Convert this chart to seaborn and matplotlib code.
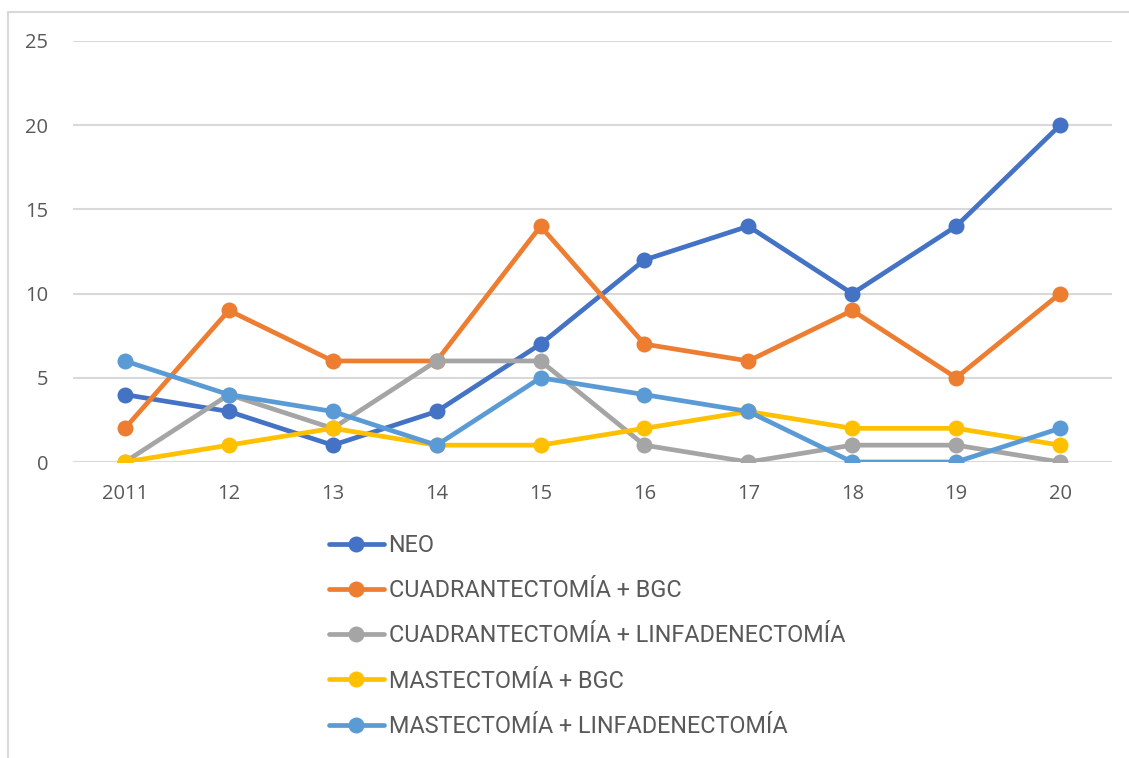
import matplotlib
matplotlib.use("Agg")
import matplotlib.pyplot as plt
from matplotlib import font_manager
from matplotlib.patches import Rectangle
import seaborn as sns
import pandas as pd

years = ["2011", "12", "13", "14", "15", "16", "17", "18", "19", "20"]
series_names = [
    "NEO",
    "CUADRANTECTOMÍA + BGC",
    "CUADRANTECTOMÍA + LINFADENECTOMÍA",
    "MASTECTOMÍA + BGC",
    "MASTECTOMÍA + LINFADENECTOMÍA",
]
neo = [4, 3, 1, 3, 7, 12, 14, 10, 14, 20]
cuad_bgc = [2, 9, 6, 6, 14, 7, 6, 9, 5, 10]
cuad_linf = [0, 4, 2, 6, 6, 1, 0, 1, 1, 0]
mast_bgc = [0, 1, 2, 1, 1, 2, 3, 2, 2, 1]
mast_linf = [6, 4, 3, 1, 5, 4, 3, 0, 0, 2]
colors = ["#4472C4", "#ED7D31", "#A5A5A5", "#FFC000", "#5B9BD5"]

rows = []
for name, vals in zip(series_names, [neo, cuad_bgc, cuad_linf, mast_bgc, mast_linf]):
    for i, v in enumerate(vals):
        rows.append({"pos": i, "year": years[i], "serie": name, "valor": v})
df = pd.DataFrame(rows)

sns.set_theme(style="white")
available = {f.name for f in font_manager.fontManager.ttflist}
tick_font = "Open Sans" if "Open Sans" in available else "DejaVu Sans"
legend_font = "Roboto" if "Roboto" in available else "Liberation Sans"
plt.rcParams["font.family"] = [tick_font, "DejaVu Sans"]

W, H = 1129, 758
fig = plt.figure(figsize=(W / 100, H / 100), dpi=100)
ax = fig.add_axes([73 / W, 1 - 462 / H, (1112 - 73) / W, (462 - 41) / H])

sns.lineplot(
    data=df, x="pos", y="valor", hue="serie", hue_order=series_names,
    palette=colors, marker="o", markersize=11.5, markeredgewidth=0,
    linewidth=3.4, ax=ax, legend=True,
)

ax.set_xlim(-0.5, 9.5)
ax.set_ylim(0, 25)
ax.set_xticks(range(len(years)))
ax.set_xticklabels(years)
ax.set_yticks(range(0, 26, 5))
ax.yaxis.grid(True, color="#D9D9D9", linewidth=1.5)
ax.set_axisbelow(True)
for s in ax.spines.values():
    s.set_visible(False)
ax.tick_params(axis="both", length=0, labelsize=14.5, colors="#595959")
ax.tick_params(axis="y", pad=18)
ax.tick_params(axis="x", pad=16)
ax.set_xlabel("")
ax.set_ylabel("")

handles, labels = ax.get_legend_handles_labels()
ax.get_legend().remove()
leg = fig.legend(
    handles, labels, loc="upper left",
    bbox_to_anchor=(329 / W, 1 - 534 / H),
    frameon=False, borderpad=0, borderaxespad=0,
    handlelength=2.35, handletextpad=0.2, labelspacing=0.95,
    prop={"family": [legend_font, "DejaVu Sans"], "size": 16.8},
)
for t in leg.get_texts():
    t.set_color("#595959")

fig.patches.append(Rectangle((8 / W, -0.2), 1.2, 1.2 - 12 / H, transform=fig.transFigure,
                             fill=False, edgecolor="#D9D9D9", linewidth=1.5))

fig.savefig("out.png", dpi=100)
